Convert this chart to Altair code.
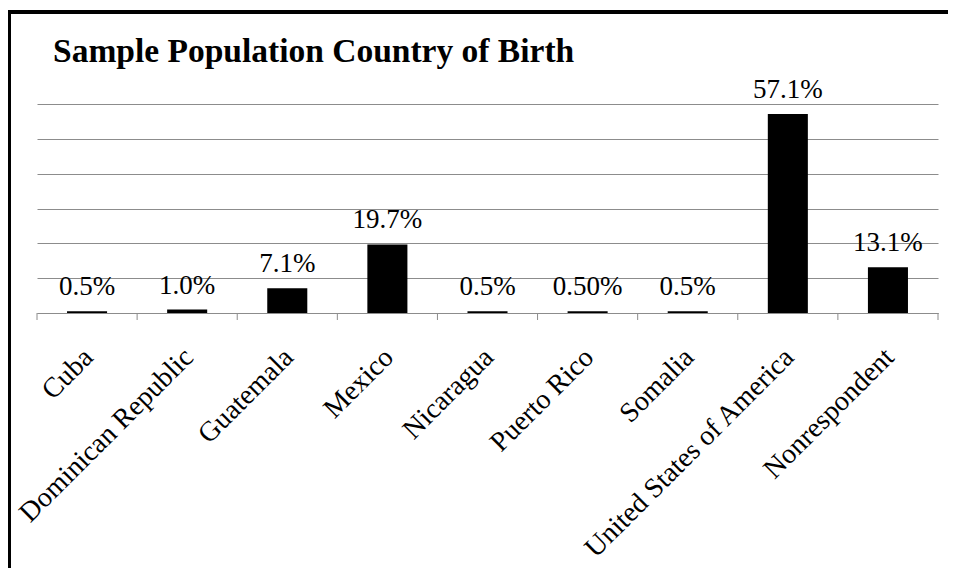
import altair as alt
import pandas as pd

countries = ["Cuba", "Dominican Republic", "Guatemala", "Mexico", "Nicaragua",
             "Puerto Rico", "Somalia", "United States of America", "Nonrespondent"]
values = [0.5, 1.0, 7.1, 19.7, 0.5, 0.5, 0.5, 57.1, 13.1]
labels = ["0.5%", "1.0%", "7.1%", "19.7%", "0.5%", "0.50%", "0.5%", "57.1%", "13.1%"]
grid_values = [0, 10, 20, 30, 40, 50, 60]
boundaries = list(range(len(countries) + 1))

df = pd.DataFrame({"country": countries, "value": values, "label": labels})
FONT = "Liberation Serif"
W, H = 901, 209

xscale = alt.Scale(paddingInner=0.6, paddingOuter=0.3)
x = alt.X("country:N", sort=countries, title=None, scale=xscale,
          axis=alt.Axis(labelAngle=-45, labelAlign="right", labelBaseline="top",
                        labelFont=FONT, labelFontSize=28, labelColor="black",
                        ticks=False, labelPadding=30, labelOffset=-8,
                        domainColor="#8c8c8c",
                        domainWidth=1, grid=False, labelLimit=0, labelOverlap=False))
y = alt.Y("value:Q", title=None,
          scale=alt.Scale(domain=[0, 60], nice=False),
          axis=alt.Axis(values=grid_values, labels=False, ticks=False, domain=False,
                        grid=True, gridColor="#8c8c8c", gridWidth=1))

bars = alt.Chart(df).mark_bar(color="black").encode(x=x, y=y)
text = alt.Chart(df).mark_text(font=FONT, fontSize=27, baseline="alphabetic",
                               dy=-16, color="black").encode(x=x, y=y, text="label:N")
main = alt.layer(bars, text)

ticks = alt.Chart(pd.DataFrame({"b": boundaries})).mark_rule(
    color="#8c8c8c", strokeWidth=1).encode(
    x=alt.X("b:Q", scale=alt.Scale(domain=[0, len(countries)], nice=False), axis=None),
    y=alt.value(H), y2=alt.value(H + 7))

frame_data = alt.Data(values=[{"k": 1}])
frame_left = alt.Chart(frame_data).mark_rule(color="black", strokeWidth=3).encode(
    x=alt.value(-27.5), y=alt.value(-94), y2=alt.value(H + 260))
frame_top = alt.Chart(frame_data).mark_rule(color="black", strokeWidth=4).encode(
    x=alt.value(-29), x2=alt.value(W + 12), y=alt.value(-92))

chart = alt.layer(main, ticks, frame_left, frame_top).resolve_scale(
    x="independent").properties(
    width=W, height=H,
    title=alt.TitleParams("Sample Population Country of Birth", anchor="start",
                          frame="group", dx=16, font=FONT, fontSize=33.5,
                          fontWeight="bold", color="black", offset=-87,
                          baseline="alphabetic"),
    autosize=alt.AutoSizeParams(type="none"),
    padding={"left": 29, "top": 96, "right": 10, "bottom": 255},
).configure_view(stroke=None)

chart.save("out.html", embed_options={"renderer": "svg", "actions": False})
